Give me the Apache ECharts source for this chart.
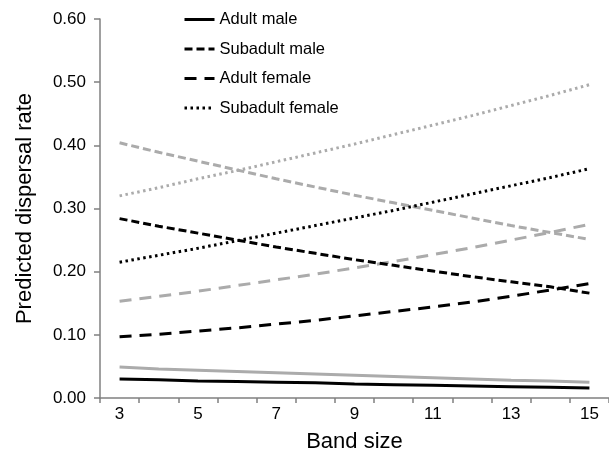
<!DOCTYPE html>
<html>
<head>
<meta charset="utf-8">
<script src="https://cdn.jsdelivr.net/npm/echarts@6/dist/echarts.min.js"></script>
<style>html,body{margin:0;padding:0;background:#fff}#c{width:609px;height:459px}</style>
</head>
<body>
<div id="c"></div>
<script>
var bandSizes = ['3','4','5','6','7','8','9','10','11','12','13','14','15'];
var yTicks = [0, 0.1, 0.2, 0.3, 0.4, 0.5, 0.6];
// black group
var adultMale = [0.030,0.029,0.027,0.026,0.025,0.024,0.022,0.021,0.020,0.019,0.018,0.017,0.016];
var subadultMale = [0.284,0.272,0.261,0.250,0.239,0.229,0.219,0.210,0.201,0.192,0.184,0.176,0.166];
var adultFemale = [0.097,0.101,0.106,0.111,0.117,0.123,0.130,0.137,0.144,0.152,0.161,0.171,0.181];
var subadultFemale = [0.215,0.226,0.237,0.249,0.261,0.273,0.285,0.297,0.310,0.323,0.336,0.349,0.363];
// grey group
var adultMaleGrey = [0.049,0.046,0.044,0.042,0.040,0.038,0.036,0.034,0.032,0.030,0.028,0.027,0.025];
var subadultMaleGrey = [0.404,0.389,0.375,0.361,0.347,0.334,0.321,0.309,0.297,0.285,0.273,0.262,0.251];
var adultFemaleGrey = [0.153,0.161,0.169,0.178,0.187,0.196,0.206,0.216,0.227,0.238,0.250,0.262,0.275];
var subadultFemaleGrey = [0.320,0.333,0.347,0.360,0.374,0.388,0.402,0.417,0.432,0.447,0.463,0.479,0.496];

var FONT = 'Liberation Sans, Arial, sans-serif';
var styles = {
  solid: 'solid',
  shortDash: [8, 4],
  longDash: [12, 8],
  dot: [2.5, 3.5]
};
function mk(name, data, color, type, z) {
  return {
    name: name, type: 'line', data: data, symbol: 'none', smooth: false, z: z,
    lineStyle: {color: color, width: 3, type: type},
    itemStyle: {color: color},
    emphasis: {disabled: true}
  };
}
var GREY = '#ababab', BLACK = '#000000';
var chart = echarts.init(document.getElementById('c'), null, {renderer: 'canvas'});
chart.setOption({
  animation: false,
  backgroundColor: '#ffffff',
  grid: {left: 100, right: -4.5, top: 19, bottom: 61, containLabel: false},
  legend: {
    data: ['Adult male', 'Subadult male', 'Adult female', 'Subadult female'],
    orient: 'vertical', left: 178, top: 6,
    itemWidth: 30, itemHeight: 16, itemGap: 12.5,
    itemStyle: {color: 'rgba(0,0,0,0)', borderColor: 'rgba(0,0,0,0)', borderWidth: 0, opacity: 0},
    lineStyle: {width: 3},
    textStyle: {fontFamily: FONT, fontSize: 16.5, color: '#000'}
  },
  xAxis: {
    type: 'category', data: bandSizes, boundaryGap: true,
    name: 'Band size', nameLocation: 'middle', nameGap: 33,
    nameTextStyle: {fontFamily: FONT, fontSize: 22, color: '#000'},
    axisLine: {lineStyle: {color: '#808080', width: 1.5}},
    axisTick: {show: true, interval: 0, length: 5, lineStyle: {color: '#808080', width: 1.5}},
    axisLabel: {interval: 1, fontFamily: FONT, fontSize: 17, color: '#000', margin: 8}
  },
  yAxis: {
    type: 'value', min: yTicks[0], max: yTicks[yTicks.length - 1], interval: 0.1,
    name: 'Predicted dispersal rate', nameLocation: 'middle', nameGap: 64,
    nameTextStyle: {fontFamily: FONT, fontSize: 22, color: '#000'},
    axisLine: {show: true, lineStyle: {color: '#808080', width: 1.5}},
    axisTick: {show: true, length: 6, lineStyle: {color: '#808080', width: 1.5}},
    splitLine: {show: false},
    axisLabel: {fontFamily: FONT, fontSize: 17, color: '#000', margin: 14,
      formatter: function (v) { return v.toFixed(2); }}
  },
  series: [
    mk('Adult male', adultMale, BLACK, styles.solid, 5),
    mk('Subadult male', subadultMale, BLACK, styles.shortDash, 5),
    mk('Adult female', adultFemale, BLACK, styles.longDash, 5),
    mk('Subadult female', subadultFemale, BLACK, styles.dot, 5),
    mk('Adult male (grey)', adultMaleGrey, GREY, styles.solid, 3),
    mk('Subadult male (grey)', subadultMaleGrey, GREY, styles.shortDash, 3),
    mk('Adult female (grey)', adultFemaleGrey, GREY, styles.longDash, 3),
    mk('Subadult female (grey)', subadultFemaleGrey, GREY, styles.dot, 3)
  ]
});
</script>
</body>
</html>
